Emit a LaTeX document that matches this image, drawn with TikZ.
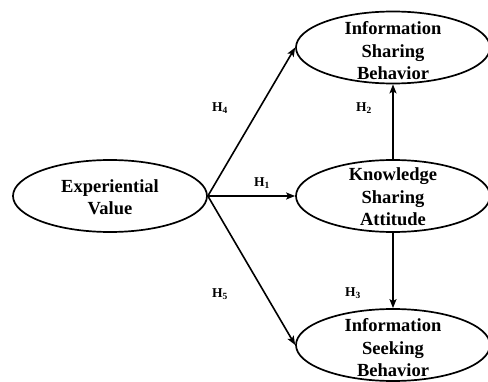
\documentclass[tikz,border=0pt]{standalone}
\usepackage{fontspec}
\setmainfont{Liberation Serif}
\usetikzlibrary{shapes.geometric,arrows.meta}
\begin{document}
\begin{tikzpicture}[x=1pt,y=-1pt,
  construct/.style={ellipse,draw,line width=1.7pt,minimum width=194pt,minimum height=72pt,inner sep=0pt},
  ctext/.style={align=center,inner sep=0pt,font=\fontsize{18.5}{22.5}\selectfont\bfseries},
  link/.style={line width=1.6pt,-{Stealth[length=9pt,width=7pt,inset=2pt]}},
  hyp/.style={font=\fontsize{13.5}{15}\selectfont\bfseries}]
\useasboundingbox (0,0) rectangle (488,382);
\node[construct] (ev) at (110,196) {};
\node[construct] (isb) at (393,47.5) {};
\node[construct] (ksa) at (393,196) {};
\node[construct] (iseek) at (393,345) {};
\node[ctext] (evt) at ([yshift=-1pt]ev.center) {Experiential\\Value};
\node[ctext] (isbt) at ([yshift=-3.5pt]isb.center) {Information\\Sharing\\Behavior};
\node[ctext] (ksat) at ([yshift=-1pt]ksa.center) {Knowledge\\Sharing\\Attitude};
\node[ctext] (iseekt) at ([yshift=-3pt]iseek.center) {Information\\Seeking\\Behavior};
\draw[link] (ev.east) -- (isb.west);
\draw[link] (ev.east) -- (ksa.west);
\draw[link] (ev.east) -- (iseek.west);
\draw[link] (ksa.north) -- (isb.south);
\draw[link] (ksa.south) -- (iseek.north);
\node[hyp] (h4) at (220,108) {H\textsubscript{4}};
\node[hyp] (h2) at (364,108) {H\textsubscript{2}};
\node[hyp] (h1) at (262,183) {H\textsubscript{1}};
\node[hyp] (h5) at (220,294) {H\textsubscript{5}};
\node[hyp] (h3) at (353,293) {H\textsubscript{3}};
\end{tikzpicture}
\end{document}
